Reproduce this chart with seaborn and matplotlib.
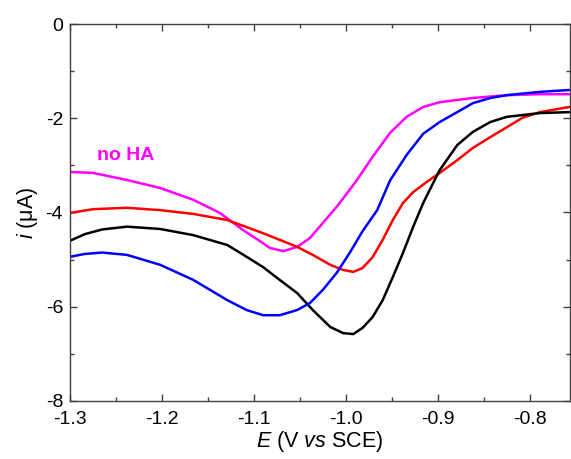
import matplotlib
matplotlib.use("Agg")
import matplotlib.pyplot as plt
from matplotlib.ticker import MultipleLocator, FormatStrFormatter
import numpy as np
import pandas as pd
import seaborn as sns

# values (E in V vs SCE, i in uA)
E_noha = [-1.300, -1.275, -1.238, -1.202, -1.166, -1.137, -1.112, -1.094, -1.083,
          -1.068, -1.053, -1.039, -1.025, -1.010, -0.996, -0.988, -0.971, -0.952,
          -0.934, -0.916, -0.898, -0.862, -0.825, -0.789, -0.757]
i_noha = [-3.14, -3.16, -3.31, -3.48, -3.73, -4.01, -4.37, -4.60, -4.75,
          -4.82, -4.73, -4.54, -4.22, -3.88, -3.52, -3.31, -2.82, -2.31,
          -1.97, -1.76, -1.66, -1.57, -1.51, -1.49, -1.49]

E_red = [-1.300, -1.275, -1.238, -1.202, -1.166, -1.129, -1.108, -1.090, -1.072,
         -1.053, -1.036, -1.017, -1.003, -0.992, -0.982, -0.971, -0.960, -0.949,
         -0.938, -0.927, -0.912, -0.898, -0.879, -0.862, -0.843, -0.825, -0.808,
         -0.789, -0.757]
i_red = [-4.01, -3.93, -3.90, -3.95, -4.03, -4.16, -4.31, -4.44, -4.58,
         -4.73, -4.90, -5.11, -5.22, -5.26, -5.18, -4.95, -4.58, -4.16,
         -3.80, -3.57, -3.35, -3.16, -2.89, -2.63, -2.40, -2.19, -1.99,
         -1.87, -1.76]

E_black = [-1.300, -1.284, -1.265, -1.238, -1.202, -1.166, -1.129, -1.108, -1.090,
           -1.072, -1.053, -1.036, -1.017, -1.003, -0.992, -0.982, -0.971, -0.960,
           -0.949, -0.938, -0.927, -0.916, -0.905, -0.898, -0.879, -0.862, -0.843,
           -0.825, -0.789, -0.757]
i_black = [-4.60, -4.46, -4.36, -4.30, -4.35, -4.48, -4.69, -4.94, -5.16,
           -5.43, -5.71, -6.07, -6.43, -6.56, -6.58, -6.45, -6.22, -5.86,
           -5.37, -4.86, -4.31, -3.80, -3.37, -3.10, -2.57, -2.29, -2.08,
           -1.97, -1.89, -1.87]

E_blue = [-1.300, -1.284, -1.265, -1.238, -1.202, -1.166, -1.129, -1.108, -1.090,
          -1.072, -1.053, -1.039, -1.025, -1.010, -0.996, -0.982, -0.966, -0.952,
          -0.934, -0.916, -0.898, -0.879, -0.862, -0.843, -0.825, -0.789, -0.757]
i_blue = [-4.94, -4.88, -4.85, -4.90, -5.11, -5.43, -5.86, -6.07, -6.18,
          -6.18, -6.07, -5.92, -5.64, -5.28, -4.86, -4.40, -3.95, -3.32,
          -2.78, -2.33, -2.08, -1.87, -1.68, -1.57, -1.51, -1.44, -1.40]

series = ["no HA", "red", "black", "blue"]
colors = ["#ff00ff", "#ff0000", "#000000", "#0000ff"]

frames = []
for name, E, i in zip(series, [E_noha, E_red, E_black, E_blue],
                      [i_noha, i_red, i_black, i_blue]):
    frames.append(pd.DataFrame({"E": E, "i": i, "curve": name}))
df = pd.concat(frames, ignore_index=True)

sns.set_style("ticks")
plt.rcParams["font.family"] = ["Liberation Sans", "DejaVu Sans"]
plt.rcParams["mathtext.fontset"] = "custom"
plt.rcParams["mathtext.rm"] = "Liberation Sans"
plt.rcParams["mathtext.it"] = "Liberation Sans:italic"
plt.rcParams["axes.unicode_minus"] = False

fig = plt.figure(figsize=(5.71, 4.59), dpi=100)
ax = fig.add_axes([0.1226, 0.1264, 0.998 - 0.1226, 0.9477 - 0.1264])

sns.lineplot(data=df, x="E", y="i", hue="curve", hue_order=series,
             palette=colors, estimator=None, sort=False, linewidth=1.8,
             legend=False, ax=ax)

ax.set_xlim(-1.3, -0.7565)
ax.set_ylim(-8, 0)
ax.xaxis.set_major_locator(MultipleLocator(0.1))
ax.xaxis.set_minor_locator(MultipleLocator(0.05))
ax.xaxis.set_major_formatter(FormatStrFormatter("%.1f"))
ax.yaxis.set_major_locator(MultipleLocator(2))
ax.yaxis.set_minor_locator(MultipleLocator(1))
ax.yaxis.set_major_formatter(FormatStrFormatter("%d"))

ax.tick_params(which="both", direction="in", top=True, right=True,
               color="#404040", labelcolor="black", labelsize=14)
ax.tick_params(axis="x", pad=7)
ax.tick_params(axis="y", pad=5)
ax.tick_params(which="major", length=5, width=1)
ax.tick_params(which="minor", length=3, width=1)
for sp in ax.spines.values():
    sp.set_color("#404040")
    sp.set_linewidth(1)

ax.set_xlabel(r"$E$ (V $vs$ SCE)", fontsize=15.5, labelpad=1, color="black")
ax.set_ylabel(r"$i$ (μA)", fontsize=15.5, labelpad=4, color="black")

ax.text(-1.2707, -2.8, "no HA", color="#ff00ff", fontsize=14,
        fontweight="bold", ha="left", va="center")

fig.savefig("out.png", dpi=100)
